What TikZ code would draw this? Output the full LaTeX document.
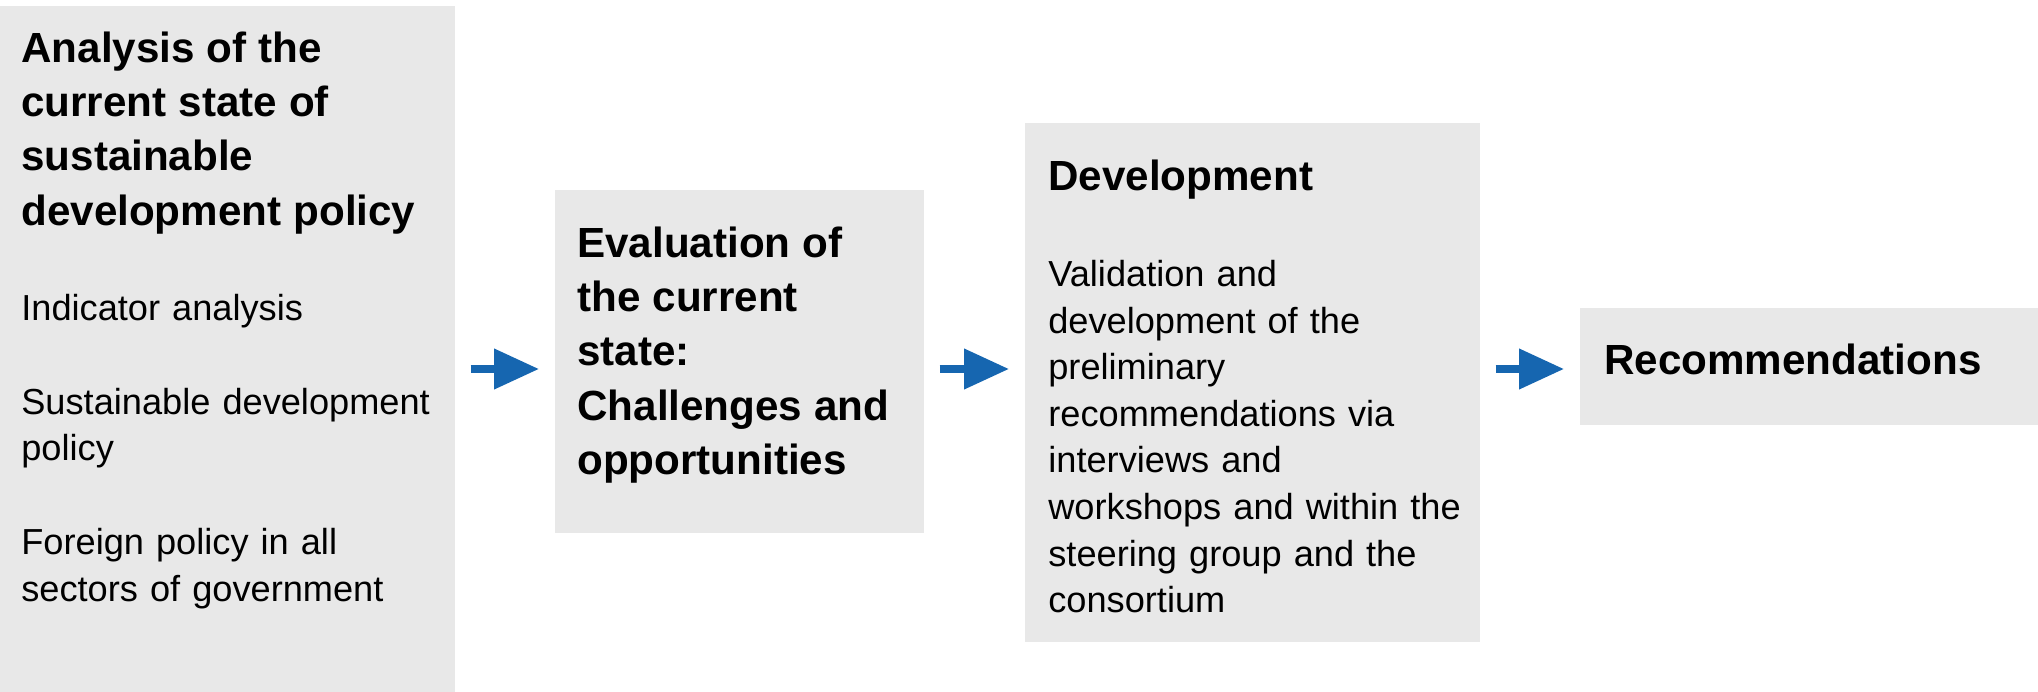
\documentclass[tikz,border=0pt]{standalone}
\usepackage{fontspec}
\setmainfont{Liberation Sans}
\usepackage{xcolor}
\usetikzlibrary{arrows.meta}
\definecolor{stagegray}{RGB}{232,232,232}
\definecolor{flowblue}{RGB}{22,102,176}
\newcommand{\headfont}{\fontsize{24}{30.9}\selectfont\bfseries}
\newcommand{\bodyfont}{\fontsize{20.6}{26.5}\selectfont\mdseries}
\setlength{\parindent}{0pt}

\begin{document}
\begin{tikzpicture}
    [x=0.02cm,y=-0.02cm,
     stage/.style={fill=stagegray,inner sep=0pt,anchor=north west},
     stagetext/.style={inner sep=0pt,anchor=north west,text width=#1,font=\bodyfont\raggedright},
     flow/.style={-{Triangle[length=0.9cm,width=0.78cm]},line width=0.15cm,draw=flowblue,
        shorten <=0.3cm,shorten >=0.32cm}]
\useasboundingbox (0,0) rectangle (2038,692);
\path
    (0,6) node [stage,minimum width=9.1cm,minimum height=13.72cm] (analysis) {}
    (555,190) node [stage,minimum width=7.38cm,minimum height=6.86cm] (evaluation) {}
    (1025,123) node [stage,minimum width=9.1cm,minimum height=10.38cm] (development) {}
    (1580,308) node [stage,minimum width=9.16cm,minimum height=2.34cm] (recommend) {};
\path
    ([shift={(21,18)}]analysis.north west) node [stagetext=8.6cm] (analysistext)
    {\headfont\strut Analysis of the\\current state of\\sustainable\\development policy\par
     \vspace{27.5pt}\bodyfont\strut Indicator analysis\par
     \vspace{27pt}\strut Sustainable development\\policy\par
     \vspace{27pt}\strut Foreign policy in all\\sectors of government\par}
    ([shift={(22,29)}]evaluation.north west) node [stagetext=7cm] (evaluationtext)
    {\headfont\strut Evaluation of\\the current\\state:\\Challenges and\\opportunities\par}
    ([shift={(23,29)}]development.north west) node [stagetext=8.8cm] (developmenttext)
    {\headfont\strut Development\par
     \vspace{26pt}\bodyfont\strut Validation and\\development of the\\preliminary\\recommendations via\\interviews and\\workshops and within the\\steering group and the\\consortium\par}
    ([shift={(24,67)}]recommend.north west) node [inner sep=0pt,anchor=base west,font=\headfont] (recommendtext)
    {Recommendations};
\coordinate (flowline) at (0,369);
\draw [flow] (analysis.east |- flowline) -- (evaluation.west |- flowline);
\draw [flow] (evaluation.east |- flowline) -- (development.west |- flowline);
\draw [flow] (development.east |- flowline) -- (recommend.west |- flowline);
\end{tikzpicture}
\end{document}
